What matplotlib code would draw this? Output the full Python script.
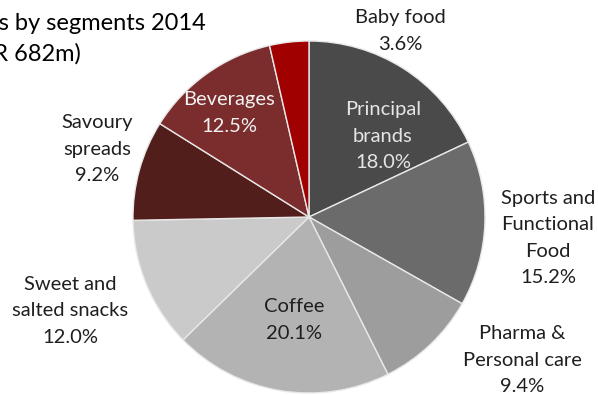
import matplotlib
matplotlib.use("Agg")
import matplotlib.pyplot as plt

# Segment shares, clockwise from 12 o'clock
segments = ["Principal\nbrands", "Sports and\nFunctional\nFood", "Pharma &\nPersonal care",
            "Coffee", "Sweet and\nsalted snacks", "Savoury\nspreads", "Beverages", "Baby food"]
shares = [18.0, 15.2, 9.4, 20.1, 12.0, 9.2, 12.5, 3.6]
colors = ["#4a4a4a", "#6b6b6b", "#9d9d9d", "#b3b3b3", "#cacaca", "#521e1b", "#7b2d2d", "#a00000"]

W, H, DPI = 598, 395, 100
fig = plt.figure(figsize=(W / DPI, H / DPI), dpi=DPI)
fig.patch.set_facecolor("white")

cx, cy, R = 309, 217, 176  # pie centre and radius in pixels
ax = fig.add_axes([(cx - R) / W, (H - cy - R) / H, 2 * R / W, 2 * R / H])
ax.pie(shares, colors=colors, startangle=90, counterclock=False,
       wedgeprops=dict(edgecolor="#e8e8e8", linewidth=1.0))
ax.set_xlim(-1, 1)
ax.set_ylim(-1, 1)
ax.set_aspect("auto")


def px(x, y):
    return (x - cx) / R, (cy - y) / R


label_font = dict(family="Lato", fontsize=14.5, linespacing=1.68)

# label anchor (pixel centre) and text colour per segment
label_pos = [(383, 136, "#e6e6e6"), (548, 238, "#1f1f1f"), (522, 360, "#1f1f1f"),
             (294, 320, "#1f1f1f"), (70, 311, "#1f1f1f"), (97, 149, "#1f1f1f"),
             (229, 113, "#f2f2f2"), (400, 31, "#1f1f1f")]

for name, val, (lx, ly, col) in zip(segments, shares, label_pos):
    x, y = px(lx, ly)
    ax.text(x, y, f"{name}\n{val:.1f}%", ha="center", va="center", color=col,
            clip_on=False, **label_font)

fig.text(206 / W, 1 - 13 / H, "Sales by segments 2014\n(EUR 682m)", ha="right", va="top",
         multialignment="left", family="Lato", fontsize=17.0, color="black", linespacing=1.5)

fig.savefig("out.png", dpi=DPI)
